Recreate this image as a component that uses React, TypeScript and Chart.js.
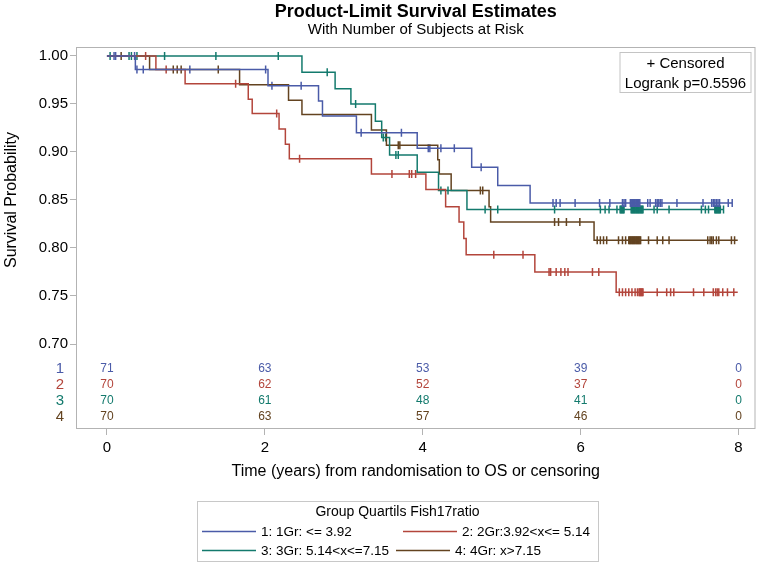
import React, { useEffect, useRef } from "react";
import { Chart, registerables } from "chart.js";

Chart.register(...registerables);

const FONT = "'Liberation Sans', Arial, Helvetica, sans-serif";

const chartTitle = "Product-Limit Survival Estimates";
const chartSubtitle = "With Number of Subjects at Risk";
const xAxisTitle = "Time (years) from randomisation to OS or censoring";
const yAxisTitle = "Survival Probability";
const legendTitle = "Group Quartils Fish17ratio";
const censoredText = "+ Censored";
const logrankText = "Logrank p=0.5596";

const groupNames = [
  "1: 1Gr: <= 3.92",
  "2: 2Gr:3.92<x<= 5.14",
  "3: 3Gr: 5.14<x<=7.15",
  "4: 4Gr: x>7.15",
];
const groupColors = ["#4a5ba8", "#b3453b", "#137a6d", "#634320"];

// Group 1
const g1Times = [0, 0.36, 2.04, 2.68, 2.73, 3.16, 3.93, 4.62, 4.95, 5.36, 7.92];
const g1Surv = [1.0, 0.986, 0.969, 0.953, 0.9375, 0.92, 0.904, 0.884, 0.865, 0.847, 0.847];
const g1Censor = [0.09, 0.11, 0.35, 0.38, 0.46, 1.05, 2.01, 2.09, 2.46, 3.22, 3.73, 4.07, 4.09, 4.23, 4.4, 4.74, 5.65, 5.69, 5.74, 5.93, 6.24, 6.37, 6.53, 6.55, 6.57, 6.63, 6.64, 6.65, 6.66, 6.67, 6.68, 6.69, 6.7, 6.71, 6.72, 6.73, 6.74, 6.75, 6.85, 6.88, 6.95, 6.97, 6.99, 7.01, 7.03, 7.22, 7.55, 7.66, 7.68, 7.7, 7.72, 7.74, 7.76, 7.87, 7.92];

// Group 2
const g2Times = [0, 0.62, 0.99, 1.79, 1.84, 2.18, 2.26, 2.31, 3.35, 4.04, 4.29, 4.46, 4.52, 4.55, 5.42, 6.45, 7.99];
const g2Surv = [1.0, 0.986, 0.971, 0.955, 0.94, 0.924, 0.908, 0.893, 0.877, 0.861, 0.843, 0.827, 0.81, 0.793, 0.775, 0.754, 0.754];
const g2Censor = [0.49, 0.75, 1.63, 2.15, 2.44, 3.61, 3.83, 3.86, 3.91, 4.9, 5.27, 5.6, 5.62, 5.69, 5.75, 5.8, 5.84, 6.15, 6.23, 6.49, 6.53, 6.57, 6.61, 6.65, 6.69, 6.72, 6.74, 6.75, 6.76, 6.77, 6.78, 6.79, 6.97, 7.09, 7.14, 7.18, 7.43, 7.56, 7.68, 7.71, 7.73, 7.75, 7.8, 7.86, 7.94];

// Group 3
const g3Times = [0, 2.47, 2.89, 3.09, 3.4, 3.48, 3.58, 3.93, 4.2, 4.56, 7.81];
const g3Surv = [1.0, 0.983, 0.966, 0.95, 0.932, 0.915, 0.897, 0.879, 0.86, 0.84, 0.84];
const g3Censor = [0.04, 0.28, 0.31, 0.38, 0.73, 1.38, 2.17, 2.79, 3.15, 3.5, 3.53, 3.66, 3.69, 4.23, 4.32, 4.79, 4.95, 5.67, 6.25, 6.31, 6.36, 6.46, 6.5, 6.51, 6.52, 6.53, 6.54, 6.55, 6.64, 6.65, 6.66, 6.67, 6.68, 6.69, 6.7, 6.71, 6.72, 6.73, 6.74, 6.75, 6.76, 6.77, 6.78, 6.79, 6.93, 6.97, 7.12, 7.53, 7.58, 7.62, 7.7, 7.71, 7.72, 7.73, 7.74, 7.75, 7.76, 7.77, 7.81];

// Group 4
const g4Times = [0, 0.54, 1.68, 2.3, 2.47, 3.35, 3.54, 4.19, 4.21, 4.36, 4.84, 4.86, 6.17, 7.99];
const g4Surv = [1.0, 0.986, 0.97, 0.954, 0.939, 0.923, 0.907, 0.892, 0.877, 0.86, 0.843, 0.827, 0.808, 0.808];
const g4Censor = [0.18, 0.84, 0.89, 0.94, 1.41, 3.69, 3.71, 4.73, 4.76, 5.67, 5.72, 5.82, 5.99, 6.21, 6.25, 6.29, 6.33, 6.48, 6.53, 6.57, 6.61, 6.62, 6.63, 6.64, 6.65, 6.66, 6.67, 6.68, 6.69, 6.7, 6.71, 6.72, 6.73, 6.74, 6.75, 6.76, 6.86, 6.97, 7.04, 7.12, 7.61, 7.64, 7.66, 7.68, 7.72, 7.75, 7.91, 7.95];

// Risk table
const riskTimes = [0, 2, 4, 6, 8];
const risk1 = [71, 63, 53, 39, 0];
const risk2 = [70, 62, 52, 37, 0];
const risk3 = [70, 61, 48, 41, 0];
const risk4 = [70, 63, 57, 46, 0];

const xTickValues = [0, 2, 4, 6, 8];
const yTickValues = [0.7, 0.75, 0.8, 0.85, 0.9, 0.95, 1.0];

const groupTimes = [g1Times, g2Times, g3Times, g4Times];
const groupSurv = [g1Surv, g2Surv, g3Surv, g4Surv];
const groupCensor = [g1Censor, g2Censor, g3Censor, g4Censor];
const groupRisk = [risk1, risk2, risk3, risk4];

// layout constants (axis values used only to place the risk rows)
const RISK_ROW_VALUES = [0.674, 0.6573, 0.6406, 0.624];

function survAt(times: number[], surv: number[], t: number) {
  let s = surv[0];
  for (let i = 0; i < times.length; i++) if (times[i] <= t) s = surv[i];
  return s;
}

const decorPlugin = {
  id: "kmDecor",
  afterDraw(chart: any) {
    const { ctx, chartArea: ca, scales } = chart;
    const xs = scales.x;
    const ys = scales.y;
    ctx.save();
    // frame
    ctx.strokeStyle = "#b3b3b3";
    ctx.lineWidth = 1;
    ctx.strokeRect(ca.left + 0.5, ca.top + 0.5, ca.right - ca.left - 1, ca.bottom - ca.top - 1);

    // risk table
    ctx.textAlign = "center";
    ctx.textBaseline = "middle";
    for (let g = 0; g < 4; g++) {
      const py = ys.getPixelForValue(RISK_ROW_VALUES[g]);
      ctx.fillStyle = groupColors[g];
      ctx.font = `12px ${FONT}`;
      for (let i = 0; i < riskTimes.length; i++) {
        ctx.fillText(String(groupRisk[g][i]), xs.getPixelForValue(riskTimes[i]), py);
      }
      ctx.font = `15px ${FONT}`;
      ctx.fillText(String(g + 1), 60, py);
    }

    // censored box
    const bw = 131, bh = 40;
    const bx = ca.right - 5 - bw, by = ca.top + 5;
    ctx.strokeStyle = "#c4c4c4";
    ctx.strokeRect(bx + 0.5, by + 0.5, bw, bh);
    ctx.fillStyle = "#000";
    ctx.font = `15px ${FONT}`;
    ctx.textBaseline = "alphabetic";
    ctx.fillText(censoredText, bx + bw / 2 + 0.5, by + 16);
    ctx.fillText(logrankText, bx + bw / 2 + 0.5, by + 36);

    // titles
    const cx = (ca.left + ca.right) / 2;
    ctx.font = `bold 18px ${FONT}`;
    ctx.fillText(chartTitle, cx, 17);
    ctx.font = `15px ${FONT}`;
    ctx.fillText(chartSubtitle, cx, 34);

    // x axis title
    ctx.font = `16px ${FONT}`;
    ctx.fillText(xAxisTitle, cx, 476);

    // y axis title
    ctx.save();
    ctx.translate(16, (ys.getPixelForValue(1.0) + ys.getPixelForValue(0.7)) / 2);
    ctx.rotate(-Math.PI / 2);
    ctx.textBaseline = "alphabetic";
    ctx.fillText(yAxisTitle, 0, 0);
    ctx.restore();

    // legend
    const lx = 197, ly = 501, lw = 401, lh = 60;
    ctx.strokeStyle = "#c8c8c8";
    ctx.lineWidth = 1;
    ctx.strokeRect(lx + 0.5, ly + 0.5, lw, lh);
    ctx.fillStyle = "#000";
    ctx.font = `14px ${FONT}`;
    ctx.textAlign = "center";
    ctx.textBaseline = "middle";
    ctx.fillText(legendTitle, lx + lw / 2, 512);
    const items = [
      { g: 0, x: 202, y: 531 },
      { g: 1, x: 403, y: 531 },
      { g: 2, x: 202, y: 550 },
      { g: 3, x: 396, y: 550 },
    ];
    ctx.textAlign = "left";
    ctx.font = `13.5px ${FONT}`;
    for (const it of items) {
      ctx.strokeStyle = groupColors[it.g];
      ctx.lineWidth = 1.5;
      ctx.beginPath();
      ctx.moveTo(it.x, it.y + 0.5);
      ctx.lineTo(it.x + 54, it.y + 0.5);
      ctx.stroke();
      ctx.fillStyle = "#000";
      ctx.fillText(groupNames[it.g], it.x + 59, it.y + 1);
    }
    ctx.restore();
  },
};

export default function App() {
  const canvasRef = useRef<HTMLCanvasElement | null>(null);

  useEffect(() => {
    const canvas = canvasRef.current;
    if (!canvas) return;
    const datasets: any[] = [];
    for (let g = 0; g < 4; g++) {
      const times = groupTimes[g];
      const surv = groupSurv[g];
      datasets.push({
        type: "line",
        label: groupNames[g],
        data: times.map((t, i) => ({ x: t, y: surv[i] })),
        stepped: true,
        borderColor: groupColors[g],
        borderWidth: 1.5,
        pointRadius: 0,
        fill: false,
      });
    }
    for (let g = 0; g < 4; g++) {
      datasets.push({
        type: "line",
        label: "Censored " + (g + 1),
        data: groupCensor[g].map((t) => ({ x: t, y: survAt(groupTimes[g], groupSurv[g], t) })),
        showLine: false,
        pointStyle: "line",
        rotation: 90,
        pointRadius: 4,
        pointBorderWidth: 1.5,
        pointBorderColor: groupColors[g],
        borderColor: groupColors[g],
      });
    }

    const chart = new Chart(canvas, {
      type: "line",
      data: { datasets },
      plugins: [decorPlugin],
      options: {
        animation: false,
        responsive: false,
        maintainAspectRatio: false,
        events: [],
        layout: { padding: { top: 47, right: 4, bottom: 0, left: 0 } },
        plugins: {
          legend: { display: false },
          tooltip: { enabled: false },
          title: { display: false },
        },
        scales: {
          x: {
            type: "linear",
            min: -0.392,
            max: 8.215,
            afterBuildTicks: (axis: any) => {
              axis.ticks = xTickValues.map((v) => ({ value: v }));
            },
            afterFit: (axis: any) => {
              axis.height = 135;
            },
            ticks: {
              font: { family: FONT, size: 15 },
              color: "#000",
              padding: 4,
              maxRotation: 0,
              callback: (v: any) => String(v),
            },
            grid: {
              display: true,
              drawOnChartArea: false,
              drawTicks: true,
              tickLength: 6,
              color: "#b3b3b3",
            },
            border: { display: false },
          },
          y: {
            type: "linear",
            min: 0.61146,
            max: 1.00937,
            afterBuildTicks: (axis: any) => {
              axis.ticks = yTickValues.map((v) => ({ value: v }));
            },
            afterFit: (axis: any) => {
              axis.width = 76;
            },
            ticks: {
              font: { family: FONT, size: 15 },
              color: "#000",
              padding: 2,
              callback: (v: any) => Number(v).toFixed(2),
            },
            grid: {
              display: true,
              drawOnChartArea: false,
              drawTicks: true,
              tickLength: 6,
              color: "#b3b3b3",
            },
            border: { display: false },
          },
        },
      } as any,
    });
    return () => chart.destroy();
  }, []);

  return (
    <div style={{ position: "fixed", left: 0, top: 0, width: 761, height: 564, background: "#fff" }}>
      <canvas ref={canvasRef} width={761} height={564} style={{ width: 761, height: 564, display: "block" }} />
    </div>
  );
}
